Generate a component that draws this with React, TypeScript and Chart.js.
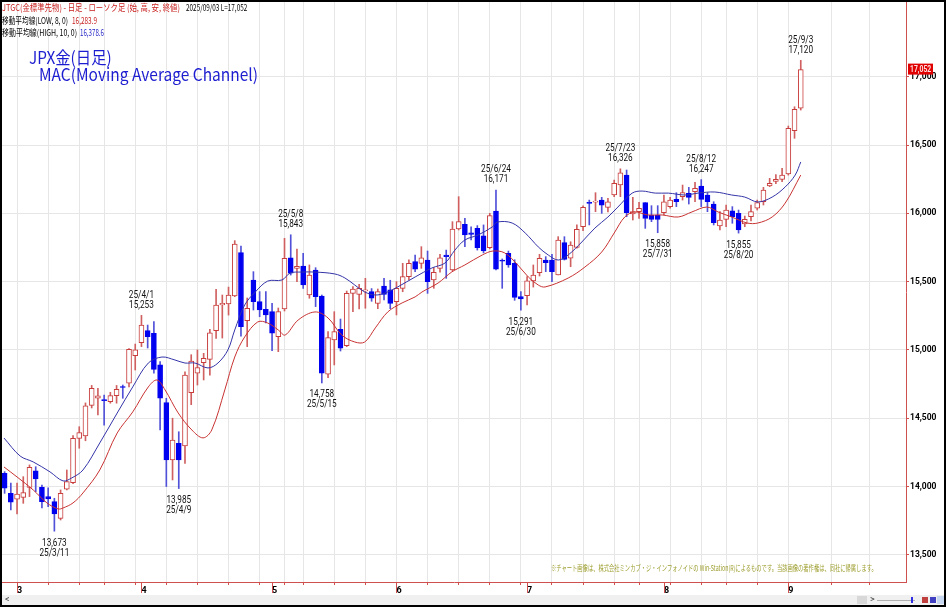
import { useEffect, useLayoutEffect, useRef } from "react"
import type { CSSProperties, ReactNode } from "react"
import { Chart, registerables } from "chart.js"

Chart.register(...registerables)

// trading days, 2025
const days = (
  "2/27 2/28 " +
  "3/3 3/4 3/5 3/6 3/7 3/10 3/11 3/12 3/13 3/14 3/17 3/18 3/19 3/21 3/24 3/25 3/26 3/27 3/28 3/31 " +
  "4/1 4/2 4/3 4/4 4/7 4/8 4/9 4/10 4/11 4/14 4/15 4/16 4/17 4/18 4/21 4/22 4/23 4/24 4/25 4/28 4/30 " +
  "5/1 5/2 5/7 5/8 5/9 5/12 5/13 5/14 5/15 5/16 5/19 5/20 5/21 5/22 5/23 5/26 5/27 5/28 5/29 5/30 " +
  "6/2 6/3 6/4 6/5 6/6 6/9 6/10 6/11 6/12 6/13 6/16 6/17 6/18 6/19 6/20 6/23 6/24 6/25 6/26 6/27 6/30 " +
  "7/1 7/2 7/3 7/4 7/7 7/8 7/9 7/10 7/11 7/14 7/15 7/16 7/17 7/18 7/22 7/23 7/24 7/25 7/28 7/29 7/30 7/31 " +
  "8/1 8/4 8/5 8/6 8/7 8/8 8/12 8/13 8/14 8/15 8/18 8/19 8/20 8/21 8/22 8/25 8/26 8/27 8/28 8/29 " +
  "9/1 9/2 9/3"
).split(" ")

const opens = [
  14097, 13950, 13907, 13921, 13994, 14114, 13994, 13926, 13889, 13767, 13980, 14028, 14353, 14370, 14594, 14646, 14636, 14621, 14665, 14730, 14756, 14958,
  15053, 15141, 15122, 14890, 14614, 14194, 14316, 14297, 14687, 14829, 14907, 14931, 15141, 15329, 15336, 15395, 15712, 15214, 15512, 15353, 15297,
  15280, 15097, 15300, 15675, 15597, 15614, 15402, 15585, 15395, 14822, 15073, 15151, 15031, 15414, 15407, 15432, 15427, 15341, 15468, 15439,
  15353, 15451, 15536, 15646, 15634, 15658, 15512, 15597, 15695, 15585, 15885, 15920, 15858, 15890, 15836, 15748, 16017, 15658, 15707, 15634, 15390,
  15397, 15505, 15566, 15658, 15658, 15549, 15785, 15671, 15751, 15902, 16081, 16081, 16097, 16044, 16134, 16207, 16280, 15995, 16012, 16078, 15988, 15988,
  16005, 16049, 16102, 16122, 16146, 16158, 16200, 16134, 16068, 15907, 15956, 16019, 16000, 15922, 15975, 16037, 16085, 16200, 16234, 16249,
  16288, 16605, 16769,
]
const highs = [
  14109, 14025, 14025, 14072, 14158, 14145, 14011, 13990, 13914, 13975, 14121, 14372, 14438, 14612, 14740, 14719, 14670, 14690, 14740, 14743, 15010, 15043,
  15253, 15182, 15207, 14914, 14646, 14500, 14401, 14840, 14965, 15000, 14975, 15151, 15444, 15402, 15460, 15800, 15760, 15380, 15573, 15427, 15427,
  15341, 15307, 15817, 15843, 15739, 15707, 15622, 15602, 15402, 15134, 15280, 15226, 15431, 15463, 15480, 15524, 15449, 15446, 15524, 15510,
  15500, 15634, 15660, 15695, 15756, 15724, 15602, 15700, 15731, 15939, 16122, 15963, 15902, 15910, 15915, 16000, 16171, 15666, 15724, 15660, 15427,
  15536, 15622, 15700, 15683, 15700, 15829, 15829, 15792, 15915, 16054, 16097, 16151, 16117, 16110, 16244, 16326, 16317, 16117, 16080, 16078, 16056, 16056,
  16134, 16117, 16151, 16207, 16190, 16227, 16247, 16151, 16085, 16012, 16061, 16049, 16024, 15980, 16061, 16097, 16190, 16256, 16283, 16329,
  16639, 16780, 17120,
]
const lows = [
  13950, 13828, 13799, 13877, 13926, 13962, 13843, 13853, 13673, 13755, 13975, 14021, 14280, 14335, 14575, 14524, 14450, 14610, 14610, 14646, 14730, 14853,
  15024, 15014, 14829, 14414, 14000, 14048, 13985, 14170, 14599, 14743, 14780, 14816, 15085, 15087, 15255, 15390, 15100, 15024, 15292, 15243, 15197,
  14994, 14987, 15285, 15548, 15500, 15451, 15378, 15317, 14758, 14797, 14890, 14992, 15024, 15280, 15300, 15305, 15356, 15302, 15366, 15302,
  15256, 15426, 15512, 15573, 15597, 15414, 15451, 15570, 15524, 15578, 15878, 15756, 15805, 15731, 15710, 15740, 15585, 15451, 15605, 15363, 15291,
  15329, 15460, 15541, 15573, 15500, 15549, 15658, 15609, 15744, 15873, 15915, 16012, 16000, 16010, 16122, 16122, 15975, 15951, 15963, 15890, 15939, 15858,
  15990, 16037, 16049, 16097, 16068, 16085, 16049, 16012, 15915, 15878, 15902, 15927, 15855, 15902, 15944, 16024, 16061, 16195, 16217, 16232,
  16280, 16549, 16756,
]
const closes = [
  13987, 13885, 13945, 13955, 14141, 14055, 13889, 13909, 13799, 13950, 14036, 14353, 14394, 14590, 14719, 14663, 14628, 14665, 14712, 14725, 15005, 15000,
  15182, 15097, 14858, 14646, 14194, 14340, 14194, 14816, 14919, 14870, 14939, 15126, 15329, 15341, 15402, 15775, 15170, 15305, 15353, 15292, 15256,
  15122, 15280, 15671, 15561, 15612, 15475, 15548, 15390, 14829, 15090, 15134, 15012, 15414, 15446, 15451, 15439, 15378, 15427, 15407, 15341,
  15451, 15536, 15634, 15592, 15675, 15500, 15568, 15675, 15683, 15885, 15939, 15841, 15846, 15748, 15724, 15983, 15592, 15649, 15622, 15385, 15373,
  15505, 15548, 15671, 15639, 15573, 15805, 15663, 15768, 15883, 16044, 16073, 16090, 16059, 16085, 16220, 16297, 16005, 16012, 16037, 15963, 15956, 15956,
  16085, 16097, 16085, 16151, 16117, 16183, 16102, 16085, 15931, 15951, 16024, 15975, 15878, 15956, 16012, 16078, 16171, 16220, 16249, 16280,
  16622, 16761, 17052,
]

// moving average channel (position in trading days, price)
const hiMaAt = [
  -0.1, 2.5, 4.6, 7.3, 9.4, 10.8, 12.6, 15.3, 18.1, 20.6, 23.1, 25.3, 27.4, 29.0, 30.6, 32.7, 34.3, 35.9, 37.0, 38.6, 40.3, 42.3, 44.6, 45.9, 47.8,
  49.9, 53.1, 54.7, 56.3, 57.9, 59.6, 61.2, 63.2, 66.0, 68.7, 70.8, 72.4, 74.0, 76.1, 78.4, 79.2, 81.6, 83.7, 85.8, 87.4, 89.0, 90.6, 92.8, 94.9,
  97.0, 98.6, 100.9, 102.5, 104.6, 106.7, 109.4, 111.5, 114.2, 116.9, 119.0, 121.1, 123.4, 125.5, 127.1, 128.0,
]
const hiMa = [
  14355, 14223, 14180, 14107, 14041, 14063, 14121, 14319, 14538, 14729, 14904, 14948, 14926, 14904, 14904, 14868, 14904, 15000, 15146, 15329, 15424,
  15504, 15512, 15563, 15570, 15570, 15556, 15527, 15475, 15424, 15402, 15417, 15461, 15534, 15600, 15636, 15731, 15805, 15841, 15900, 15936, 15929,
  15856, 15754, 15695, 15658, 15695, 15790, 15892, 15973, 16046, 16148, 16163, 16148, 16148, 16134, 16148, 16156, 16134, 16119, 16083, 16119, 16193,
  16280, 16376,
]
const loMaAt = [
  -0.1, 2.0, 4.6, 6.8, 8.6, 9.4, 11.0, 12.6, 15.3, 18.1, 20.6, 23.1, 24.5, 25.8, 27.9, 30.1, 31.9, 33.3, 35.4, 37.0, 38.6, 40.7, 42.3, 44.0, 45.1,
  47.2, 49.9, 52.0, 54.2, 56.3, 57.9, 59.6, 61.6, 63.9, 66.0, 67.1, 69.7, 71.9, 74.0, 76.8, 78.5, 80.4, 82.5, 84.2, 85.8, 86.9, 90.6, 93.3, 96.0,
  98.1, 99.7, 101.3, 103.4, 105.7, 108.3, 110.5, 112.9, 114.7, 116.9, 119.4, 121.1, 123.4, 125.5, 128.0,
]
const loMa = [
  14143, 14070, 13975, 13880, 13836, 13843, 13880, 13953, 14121, 14392, 14546, 14729, 14780, 14707, 14539, 14414, 14356, 14414, 14707, 14948, 15095,
  15205, 15197, 15146, 15109, 15219, 15278, 15234, 15109, 15058, 15058, 15161, 15278, 15344, 15388, 15424, 15490, 15571, 15622, 15695, 15724, 15710,
  15622, 15534, 15475, 15461, 15526, 15607, 15717, 15863, 15973, 16010, 15988, 15988, 15973, 16010, 16046, 16010, 15973, 15929, 15929, 15973, 16075,
  16280,
]
const loMaLast = 16283.9
const hiMaLast = 16378.6

const yTicks = [13500, 14000, 14500, 15000, 15500, 16000, 16500, 17000]
const futureWeekSlots = [133, 139]

const marks = [
  { day: "3/11", at: "low" },
  { day: "4/1", at: "high" },
  { day: "4/9", at: "low" },
  { day: "5/8", at: "high" },
  { day: "5/15", at: "low" },
  { day: "6/24", at: "high" },
  { day: "6/30", at: "low" },
  { day: "7/23", at: "high" },
  { day: "7/31", at: "low" },
  { day: "8/12", at: "high" },
  { day: "8/20", at: "low" },
  { day: "9/3", at: "high" },
]

const UP = "#c83c3c"
const UP_WICK = "#d06060"
const DOWN = "#0000f0"
const DOWN_WICK = "#5050d8"
const AXIS = "#d05050"
const GRID = "#e6e6e6"
const AXFONT = "Roboto, 'DejaVu Sans', sans-serif"
const JP = "'Noto Sans CJK JP', 'Noto Sans', sans-serif"

const fmt = (v: number) => v.toLocaleString("en-US")
const toDate = (s: string) => {
  const [m, d] = s.split("/").map(Number)
  return new Date(2025, m - 1, d)
}

const weekStarts = days
  .map((s, i) => {
    if (i === 0) return -1
    const a = toDate(days[i - 1])
    const b = toDate(s)
    const gap = (b.getTime() - a.getTime()) / 86400000
    return b.getDay() < a.getDay() || gap >= 7 ? i : -1
  })
  .filter((i) => i >= 0)
const monthStarts = new Map<number, string>()
days.forEach((s, i) => {
  if (i > 0 && s.split("/")[0] !== days[i - 1].split("/")[0]) monthStarts.set(i, s.split("/")[0])
})
const gridSet = new Set<number>([...weekStarts, ...futureWeekSlots])
const xTickValues = Array.from(new Set<number>([...gridSet, ...monthStarts.keys()])).sort((a, b) => a - b)

function Fit({ w, children, style }: { w: number; children: ReactNode; style?: CSSProperties }) {
  const ref = useRef<HTMLSpanElement | null>(null)
  useLayoutEffect(() => {
    const el = ref.current
    if (!el) return
    el.style.transform = "none"
    const natural = el.offsetWidth
    if (natural > 0) el.style.transform = `scaleX(${w / natural})`
  })
  return (
    <span ref={ref} style={{ display: "inline-block", whiteSpace: "nowrap", transformOrigin: "0 50%", ...style }}>
      {children}
    </span>
  )
}

const at = (left: number, top: number): CSSProperties => ({ position: "absolute", left, top, whiteSpace: "nowrap" })

// narrow text, as the original terminal font
const narrowText = (ctx: CanvasRenderingContext2D, text: string, x: number, y: number, sx: number) => {
  ctx.save()
  ctx.translate(x, y)
  ctx.scale(sx, 1)
  ctx.fillText(text, 0, 0)
  ctx.restore()
}

const overlay = {
  id: "overlay",
  afterDatasetsDraw(chart: Chart) {
    const { ctx } = chart
    const x = chart.scales.x
    const y = chart.scales.y
    ctx.save()
    ctx.font = `10px ${AXFONT}`
    ctx.fillStyle = "#111"
    ctx.textAlign = "center"
    ctx.textBaseline = "middle"
    marks.forEach((m) => {
      const i = days.indexOf(m.day)
      const px = x.getPixelForValue(i)
      if (m.at === "high") {
        const py = y.getPixelForValue(highs[i])
        narrowText(ctx, fmt(highs[i]), px, py - 10, 0.82)
        narrowText(ctx, "25/" + m.day, px, py - 20, 0.82)
      } else {
        const py = y.getPixelForValue(lows[i])
        narrowText(ctx, fmt(lows[i]), px, py + 12, 0.82)
        narrowText(ctx, "25/" + m.day, px, py + 22, 0.82)
      }
    })
    ctx.restore()
  },
  afterDraw(chart: Chart) {
    const { ctx, chartArea } = chart
    const x = chart.scales.x
    const y = chart.scales.y
    ctx.save()
    ctx.strokeStyle = AXIS
    ctx.lineWidth = 1
    monthStarts.forEach((_, i) => {
      const px = Math.round(x.getPixelForValue(i)) + 0.5
      ctx.beginPath()
      ctx.moveTo(px, chartArea.bottom)
      ctx.lineTo(px, chartArea.bottom + 11)
      ctx.stroke()
    })
    // last price tag on the price axis
    const last = closes[closes.length - 1]
    const py = y.getPixelForValue(last)
    ctx.fillStyle = "#e00000"
    ctx.fillRect(chartArea.right + 2, py - 6, 25, 11)
    ctx.fillStyle = "#ffe0e0"
    ctx.font = `bold 8.5px ${AXFONT}`
    ctx.textAlign = "left"
    ctx.textBaseline = "middle"
    narrowText(ctx, fmt(last), chartArea.right + 4, py, 0.8)
    ctx.restore()
  },
}

export default function App() {
  const chartRef = useRef<HTMLCanvasElement | null>(null)
  const chartInstance = useRef<Chart | null>(null)

  useEffect(() => {
    document.body.style.margin = "0"
    if (!chartRef.current) return
    const idx = days.map((_, i) => i)
    const up = idx.map((i) => closes[i] >= opens[i])

    chartInstance.current = new Chart(chartRef.current, {
      type: "bar",
      data: {
        datasets: [
          {
            type: "line",
            data: hiMaAt.map((v, k) => ({ x: v, y: hiMa[k] })),
            borderColor: "#3434a8",
            borderWidth: 1,
            pointRadius: 0,
            tension: 0.35,
            order: 0,
          },
          {
            type: "line",
            data: loMaAt.map((v, k) => ({ x: v, y: loMa[k] })),
            borderColor: "#c83232",
            borderWidth: 1,
            pointRadius: 0,
            tension: 0.35,
            order: 0,
          },
          {
            type: "bar",
            data: idx.map((i) => ({ x: i, y: [Math.min(opens[i], closes[i]), Math.max(opens[i], closes[i])] })),
            backgroundColor: idx.map((i) => (up[i] ? "#ffffff" : DOWN)),
            borderColor: idx.map((i) => (up[i] ? UP : DOWN)),
            borderWidth: 1,
            borderSkipped: false,
            barThickness: 5,
            minBarLength: 1,
            grouped: false,
            order: 1,
          },
          {
            type: "bar",
            data: idx.map((i) => ({ x: i, y: [lows[i], highs[i]] })),
            backgroundColor: idx.map((i) => (up[i] ? UP_WICK : DOWN_WICK)),
            borderWidth: 0,
            barThickness: 1,
            grouped: false,
            order: 2,
          },
        ] as any,
      },
      options: {
        animation: false,
        responsive: true,
        maintainAspectRatio: false,
        events: [],
        layout: { padding: 0 },
        plugins: { legend: { display: false }, tooltip: { enabled: false } },
        scales: {
          x: {
            type: "linear",
            min: -0.42,
            max: 144.92,
            bounds: "data",
            offset: false,
            afterBuildTicks: (s: any) => {
              s.ticks = xTickValues.map((v) => ({ value: v }))
            },
            afterFit: (s: any) => {
              s.height = 13
              s.paddingLeft = 0
              s.paddingRight = 0
            },
            grid: {
              offset: false,
              tickLength: 3,
              color: (c: any) => (gridSet.has(c.tick?.value) ? GRID : "rgba(0,0,0,0)"),
              tickColor: (c: any) => (gridSet.has(c.tick?.value) ? AXIS : "rgba(0,0,0,0)"),
            },
            border: { color: AXIS, width: 1 },
            ticks: {
              autoSkip: false,
              maxRotation: 0,
              align: "start",
              padding: 0,
              color: "#000",
              font: { family: AXFONT, size: 9, weight: "bold" },
              callback: (v: any) => monthStarts.get(Number(v)) ?? "",
            },
          },
          y: {
            type: "linear",
            position: "right",
            min: 13301,
            max: 17547,
            bounds: "data",
            afterBuildTicks: (s: any) => {
              s.ticks = yTicks.map((v) => ({ value: v }))
            },
            afterFit: (s: any) => {
              s.width = 38
              s.paddingTop = 0
              s.paddingBottom = 0
            },
            grid: { color: GRID, tickColor: AXIS, tickLength: 3 },
            border: { color: AXIS, width: 1 },
            ticks: {
              padding: 1,
              color: "#000",
              font: { family: AXFONT, size: 8.5, weight: "bold" },
              callback: (v: any) => fmt(Number(v)),
            },
          },
        },
      },
      plugins: [overlay],
    })

    return () => {
      if (chartInstance.current) {
        chartInstance.current.destroy()
        chartInstance.current = null
      }
    }
  }, [])

  const lastDay = days[days.length - 1].split("/").map((s) => s.padStart(2, "0"))
  const small: CSSProperties = { fontFamily: JP, fontSize: 9, lineHeight: "10px" }

  return (
    <div
      style={{
        position: "absolute",
        left: 0,
        top: 0,
        width: 946,
        height: 607,
        boxSizing: "border-box",
        border: "2px solid #000",
        background: "#fff",
        overflow: "hidden",
      }}
    >
      <div style={{ position: "absolute", left: 0, top: 0, width: 942, height: 593 }}>
        <canvas ref={chartRef} />
      </div>

      <div style={{ ...at(0, 1), ...small }}>
        <Fit w={178} style={{ color: "#c81e1e" }}>JTGC(金標準先物) - 日足 - ローソク足 (始, 高, 安, 終値)</Fit>
      </div>
      <div style={{ ...at(184, 1), ...small }}>
        <Fit w={61} style={{ color: "#000" }}>{`2025/${lastDay[0]}/${lastDay[1]} L=${fmt(closes[closes.length - 1])}`}</Fit>
      </div>
      <div style={{ ...at(0, 14), ...small }}>
        <Fit w={66} style={{ color: "#000" }}>移動平均線(LOW, 8, 0)</Fit>
      </div>
      <div style={{ ...at(70, 14), ...small }}>
        <Fit w={25} style={{ color: "#c81e1e" }}>{loMaLast.toLocaleString("en-US", { minimumFractionDigits: 1 })}</Fit>
      </div>
      <div style={{ ...at(0, 26), ...small }}>
        <Fit w={75} style={{ color: "#000" }}>移動平均線(HIGH, 10, 0)</Fit>
      </div>
      <div style={{ ...at(78, 26), ...small }}>
        <Fit w={24} style={{ color: "#2828c8" }}>{hiMaLast.toLocaleString("en-US", { minimumFractionDigits: 1 })}</Fit>
      </div>

      <div style={{ ...at(27, 45), fontFamily: JP, fontSize: 17, lineHeight: "20px" }}>
        <Fit w={83} style={{ color: "#1c1cd0" }}>JPX金(日足)</Fit>
      </div>
      <div style={{ ...at(37, 62), fontFamily: JP, fontSize: 17, lineHeight: "20px" }}>
        <Fit w={219} style={{ color: "#1c1cd0" }}>MAC(Moving Average Channel)</Fit>
      </div>

      <div style={{ ...at(549, 561), fontFamily: JP, fontSize: 8, lineHeight: "10px" }}>
        <Fit w={326} style={{ color: "#9c9c2c" }}>
          ※チャート画像は、株式会社ミンカブ・ジ・インフォノイドの Win-Station(R)によるものです。当該画像の著作権は、同社に帰属します。
        </Fit>
      </div>

      <div style={{ position: "absolute", left: 0, top: 593, width: 942, height: 10, background: "#f0f0f0" }}>
        <span style={{ ...at(3, -1), fontFamily: AXFONT, fontSize: 9, color: "#444" }}>&lt;</span>
        <div style={{ position: "absolute", left: 855, top: 1, width: 10, height: 8, background: "#d8d8d8" }} />
        <span style={{ ...at(868, -1), fontFamily: AXFONT, fontSize: 9, color: "#444" }}>&gt;</span>
        <div style={{ position: "absolute", left: 875, top: 5, width: 38, height: 1, background: "#b0b0b0" }} />
        <div style={{ position: "absolute", left: 909, top: 2, width: 2, height: 6, background: "#3030e0" }} />
        <div style={{ position: "absolute", left: 920, top: 2, width: 6, height: 6, background: "#c04040" }} />
        <div style={{ position: "absolute", left: 928, top: 2, width: 6, height: 6, background: "#4040c0" }} />
        <div style={{ position: "absolute", left: 935, top: 1, width: 7, height: 8, background: "#c8d8f0" }} />
      </div>
    </div>
  )
}
